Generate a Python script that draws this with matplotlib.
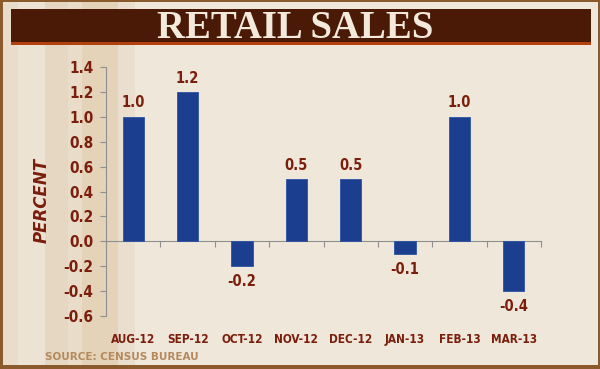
import matplotlib.pyplot as plt
from matplotlib.patches import Rectangle
import numpy as np

months = ['AUG-12', 'SEP-12', 'OCT-12', 'NOV-12', 'DEC-12', 'JAN-13', 'FEB-13', 'MAR-13']
change = [1.0, 1.2, -0.2, 0.5, 0.5, -0.1, 1.0, -0.4]
yticks = [1.4, 1.2, 1.0, 0.8, 0.6, 0.4, 0.2, 0.0, -0.2, -0.4, -0.6]

red = '#7b1e0c'
blue = '#1b3f8e'
W, H = 600, 369

fig = plt.figure(figsize=(6, 3.69), dpi=100)
fig.patch.set_facecolor('#efe7da')

# background layer in pixel coordinates
bg = fig.add_axes([0, 0, 1, 1], zorder=-1)
bg.set_xlim(0, W)
bg.set_ylim(H, 0)
bg.axis('off')

stripes = [(0, 18, '#e9dccb'), (18, 45, '#ede3d5'), (45, 68, '#e6d7c3'),
           (68, 82, '#e9dcc9'), (82, 118, '#e4d2b9'), (118, 135, '#eadfcf')]
for x0, x1, c in stripes:
    bg.add_patch(Rectangle((x0, 0), x1 - x0, H, facecolor=c, edgecolor='none'))

# border
for r in [(0, 0, 3, H), (0, H - 4, W, 4), (0, 0, W, 2), (W - 2, 0, 2, H)]:
    bg.add_patch(Rectangle(r[:2], r[2], r[3], facecolor='#8a5a2c', edgecolor='none'))

# title band
bg.add_patch(Rectangle((11, 9), 580, 36, facecolor='#b3410f', edgecolor='none'))
bg.add_patch(Rectangle((11, 9), 580, 33, facecolor='#4a1a06', edgecolor='none'))
bg.text(295, 28, 'RETAIL SALES', ha='center', va='center', color='#f3eadc',
        fontsize=28, fontweight='bold', family='Liberation Serif')

ax = fig.add_axes([106 / W, 1 - 316 / H, 435 / W, 249 / H])
ax.patch.set_alpha(0)
x = np.arange(len(months))
ax.bar(x, change, width=0.39, color=blue, edgecolor='#2d53a3', linewidth=0.6, zorder=3)
ax.set_xlim(-0.5, len(months) - 0.5)
ax.set_ylim(-0.6, 1.4)

for s in ['top', 'right']:
    ax.spines[s].set_visible(False)
ax.spines['left'].set_color('#8f8f8f')
ax.spines['bottom'].set_color('#8f8f8f')
ax.spines['bottom'].set_position(('data', 0))
ax.set_xticks(np.arange(len(months) + 1) - 0.5)
ax.set_xticklabels([])
ax.tick_params(axis='x', direction='out', length=4, color='#8f8f8f')
ax.set_yticks(yticks)
ax.set_yticklabels(['%.1f' % v for v in yticks])
ax.tick_params(axis='y', direction='out', length=4, color='#8f8f8f', labelcolor=red,
               labelsize=11, pad=5)
for lab in ax.get_yticklabels():
    lab.set_fontweight('bold')
    lab.set_fontstretch('condensed')

for i, m in enumerate(months):
    ax.annotate(m, (i, -0.6), xytext=(0, -17), textcoords='offset points', ha='center',
                va='center', color=red, fontsize=8.5, fontweight='bold', fontstretch='condensed')
    v = change[i]
    ax.annotate('%.1f' % v, (i, v), xytext=(0, 10 if v >= 0 else -11), textcoords='offset points',
                ha='center', va='center', color=red, fontsize=10.5, fontweight='bold',
                fontstretch='condensed')

fig.text(42 / W, 1 - 200 / H, 'PERCENT', rotation=90, ha='center', va='center', color=red,
         fontsize=12, fontweight='bold', fontstyle='italic')
fig.text(45 / W, 1 - 357 / H, 'SOURCE: CENSUS BUREAU', ha='left', va='center', color='#b48a5e',
         fontsize=7.5, fontweight='bold')

fig.savefig('out.png', dpi=100, facecolor=fig.get_facecolor())
